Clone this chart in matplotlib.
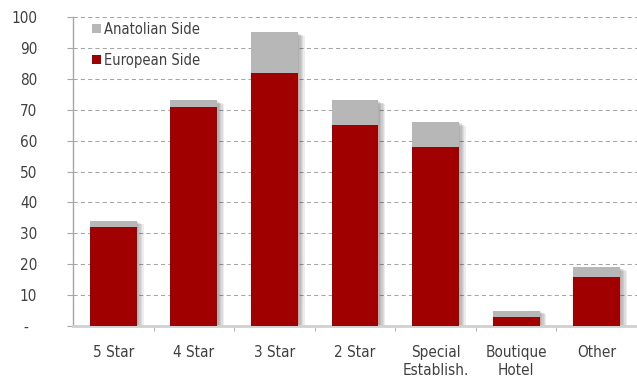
import matplotlib
matplotlib.use("Agg")
import matplotlib.pyplot as plt
import matplotlib.patheffects as pe
from matplotlib.patches import Patch
from matplotlib.ticker import FixedLocator, FuncFormatter
import numpy as np

categories = ["5 Star", "4 Star", "3 Star", "2 Star", "Special\nEstablish.", "Boutique\nHotel", "Other"]
european = [32, 71, 82, 65, 58, 3, 16]
anatolian = [2, 2, 13, 8, 8, 2, 3]

RED = "#A00000"
GREY = "#B7B7B7"
TEXT = "#404040"
LINE = "#A6A6A6"

plt.rcParams["font.family"] = ["DejaVu Sans"]
plt.rcParams["font.stretch"] = "condensed"

fig = plt.figure(figsize=(6.37, 3.78), dpi=100)
ax = fig.add_axes([73 / 637, 52 / 378, 564 / 637, 309 / 378])

x = np.arange(len(categories))
width = 0.58
totals = np.array(european) + np.array(anatolian)

# soft drop shadow behind each full stack
soft = [pe.SimplePatchShadow(offset=(k, -0.5 * k), shadow_rgbFace="#000000", alpha=0.07)
        for k in (1, 2, 3, 4, 5)]
ax.bar(x, totals, width=width, color="none", edgecolor="none", zorder=2,
       path_effects=soft + [pe.Normal()])
b1 = ax.bar(x, european, width=width, color=RED, zorder=3)
b2 = ax.bar(x, anatolian, width=width, bottom=european, color=GREY, zorder=3)

ax.set_xlim(-0.5, len(categories) - 0.5)
ax.set_ylim(0, 100)
ax.yaxis.set_major_locator(FixedLocator(np.arange(0, 101, 10)))
ax.yaxis.set_major_formatter(FuncFormatter(lambda v, p: "-  " if v == 0 else f"{int(v)}"))
ax.grid(axis="y", color=LINE, linestyle=(0, (4, 3)), linewidth=0.75, zorder=0)

ax.set_xticks(x)
ax.set_xticklabels(categories, linespacing=1.2)
ax.xaxis.set_minor_locator(FixedLocator(np.arange(0.5, len(categories) - 0.5, 1)))
ax.tick_params(axis="x", which="major", length=0, pad=14, labelsize=11, labelcolor=TEXT)
ax.tick_params(axis="x", which="minor", length=3.6, color=LINE, direction="out")
ax.tick_params(axis="y", length=4.3, color=LINE, pad=21.5, labelsize=11, labelcolor=TEXT)

for s in ["top", "right"]:
    ax.spines[s].set_visible(False)
ax.spines["left"].set_color(LINE)
ax.spines["left"].set_linewidth(1.0)
ax.spines["bottom"].set_color("#D0D0D0")
ax.spines["bottom"].set_linewidth(2.0)

handles = [Patch(facecolor=GREY), Patch(facecolor=RED)]
leg = ax.legend(handles, ["Anatolian Side", "European Side"], loc="upper left",
                bbox_to_anchor=(0.034, 0.985), frameon=False, fontsize=10.5,
                handlelength=0.6, handleheight=0.6, handletextpad=0.2, labelspacing=1.1,
                borderaxespad=0, borderpad=0)
for t in leg.get_texts():
    t.set_color(TEXT)

fig.savefig("out.png", dpi=100)
